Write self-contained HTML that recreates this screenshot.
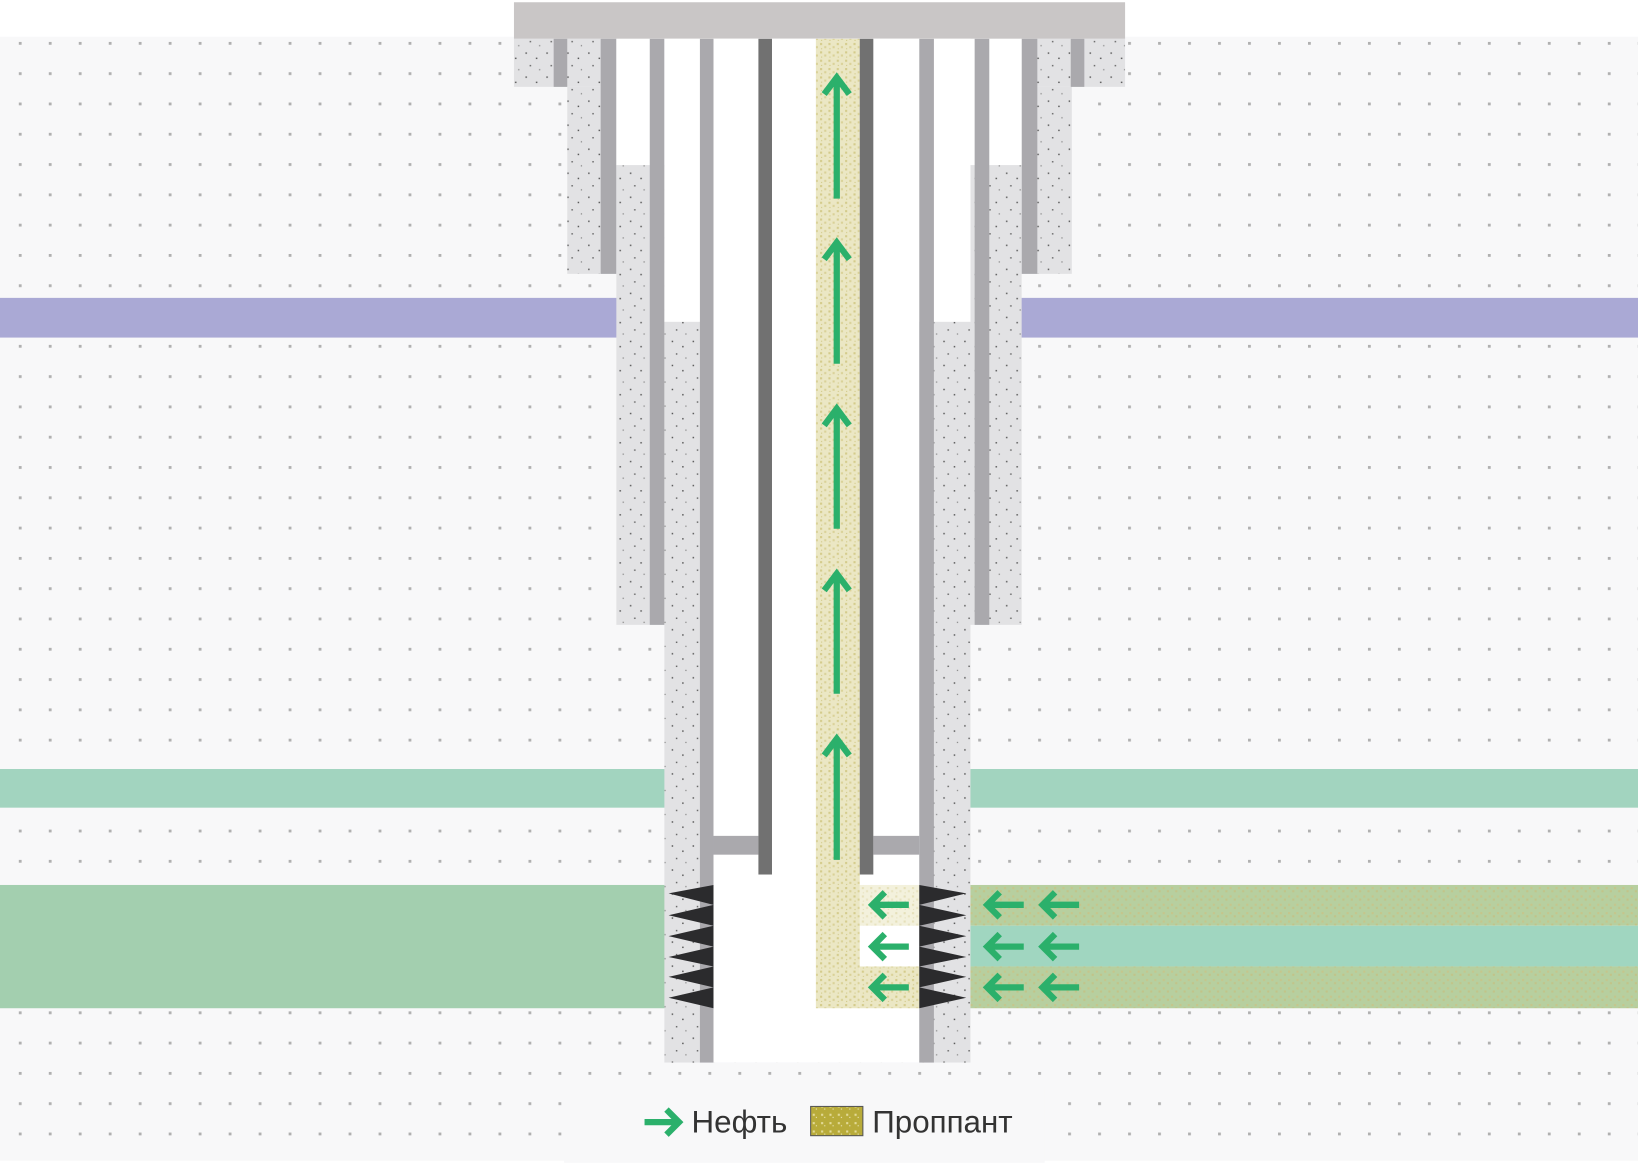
<!DOCTYPE html>
<html><head><meta charset="utf-8"><style>html,body{margin:0;padding:0;background:#fff}svg{display:block}</style></head><body>
<svg width="1638" height="1163" viewBox="0 0 1568 1113" xmlns="http://www.w3.org/2000/svg">
<defs>
<pattern id="dots" x="18" y="11" width="28.7" height="29" patternUnits="userSpaceOnUse"><rect width="2.7" height="2.7" fill="#b0b0b0"/></pattern>
<pattern id="cem" width="20" height="23" patternUnits="userSpaceOnUse"><rect width="20" height="23" fill="#e2e2e4"/><rect x="3" y="4" width="1.4" height="1.4" fill="#555"/><rect x="13" y="9" width="1.4" height="1.4" fill="#555"/><rect x="7" y="16" width="1.4" height="1.4" fill="#666"/><rect x="16" y="20" width="1.2" height="1.2" fill="#888"/></pattern>
<pattern id="prop" width="8" height="8" patternUnits="userSpaceOnUse"><rect width="8" height="8" fill="#ebe7c4"/><rect x="1" y="1" width="2" height="2" fill="#d4cb8a"/><rect x="5" y="4" width="2" height="2" fill="#d9d197"/><rect x="2" y="6" width="1" height="1" fill="#cfc682"/></pattern>
<pattern id="propg" width="8" height="8" patternUnits="userSpaceOnUse"><rect width="8" height="8" fill="#b7cf9f"/><rect x="1" y="1" width="2" height="2" fill="#c6c58b"/><rect x="5" y="4" width="2" height="2" fill="#c2c388"/></pattern>
<pattern id="leg" width="8" height="8" patternUnits="userSpaceOnUse"><rect width="8" height="8" fill="#b8ab3a"/><rect x="2" y="2" width="2" height="2" fill="#e4dc9a"/><rect x="5" y="5" width="1" height="1" fill="#f2eecd"/></pattern>
</defs>
<rect x="0" y="35" width="1568" height="1076" fill="#f8f8f9"/>
<rect x="0" y="35" width="1568" height="1076" fill="url(#dots)"/>
<rect x="0" y="285" width="1568" height="38" fill="#aaa9d5"/>
<rect x="0" y="736" width="1568" height="37" fill="#a2d4bf"/>
<rect x="0" y="847" width="640" height="118" fill="#a3cfaf"/>
<rect x="925" y="847" width="643" height="39" fill="url(#propg)"/>
<rect x="925" y="886" width="643" height="39" fill="#a0d6c0"/>
<rect x="925" y="925" width="643" height="40" fill="url(#propg)"/>
<rect x="492" y="2" width="585" height="35" fill="#c9c6c6"/>
<rect x="492" y="37" width="585" height="46" fill="url(#cem)"/>
<rect x="543" y="83" width="483" height="179" fill="url(#cem)"/>
<rect x="530" y="37" width="13" height="46" fill="#aaa9ad"/>
<rect x="1025" y="37" width="13" height="46" fill="#aaa9ad"/>
<rect x="575" y="37" width="15" height="225" fill="#aaa9ad"/>
<rect x="978" y="37" width="15" height="225" fill="#aaa9ad"/>
<rect x="590" y="37" width="388" height="121" fill="#fff"/>
<rect x="590" y="158" width="388" height="440" fill="url(#cem)"/>
<rect x="622" y="37" width="14" height="561" fill="#aaa9ad"/>
<rect x="933" y="37" width="14" height="561" fill="#aaa9ad"/>
<rect x="636" y="37" width="293" height="271" fill="#fff"/>
<rect x="636" y="308" width="293" height="709" fill="url(#cem)"/>
<rect x="683" y="37" width="197" height="980" fill="#fff"/>
<rect x="670" y="37" width="13" height="980" fill="#aaa9ad"/>
<rect x="880" y="37" width="14" height="980" fill="#aaa9ad"/>
<rect x="781" y="37" width="42" height="928" fill="url(#prop)"/>
<rect x="823" y="847" width="57" height="39" fill="url(#prop)" opacity="0.6"/>
<rect x="823" y="925" width="57" height="40" fill="url(#prop)"/>
<rect x="683" y="800" width="43" height="18" fill="#aaa9ad"/>
<rect x="836" y="800" width="44" height="18" fill="#aaa9ad"/>
<rect x="726" y="37" width="13" height="800" fill="#717171"/>
<rect x="823" y="37" width="13" height="800" fill="#717171"/>
<g fill="#2b2b2d">
<path d="M683,847 L640,855 L683,866Z M683,866 L640,876 L683,886Z M683,886 L640,896 L683,906Z M683,906 L640,916 L683,925Z M683,925 L640,935 L683,945Z M683,945 L640,955 L683,965Z"/>
<path d="M880,847 L925,855 L880,866Z M880,866 L925,876 L880,886Z M880,886 L925,896 L880,906Z M880,906 L925,916 L880,925Z M880,925 L925,935 L880,945Z M880,945 L925,955 L880,965Z"/>
</g>
<g stroke="#2bb06b" stroke-width="6" fill="none" stroke-linejoin="miter">
<path d="M801,190 V74 M789,90 L801,74 L813,90"/>
<path d="M801,348 V232 M789,248 L801,232 L813,248"/>
<path d="M801,506 V391 M789,407 L801,391 L813,407"/>
<path d="M801,664 V549 M789,565 L801,549 L813,565"/>
<path d="M801,823 V707 M789,723 L801,707 L813,723"/>
</g>
<g stroke="#2bb06b" stroke-width="6" fill="none">
<g id="la"><path d="M870,866 H835 M847,854 L835,866 L847,878"/><path d="M980,866 H945 M957,854 L945,866 L957,878"/><path d="M1033,866 H998 M1010,854 L998,866 L1010,878"/></g>
<use href="#la" y="40"/><use href="#la" y="79"/>
</g>
<rect x="540" y="1040" width="460" height="73" fill="#f8f8f9"/>
<g stroke="#2bb06b" stroke-width="6" fill="none"><path d="M617,1074 H648 M638,1062 L650,1074 L638,1086"/></g>
<text x="662" y="1084" font-family="Liberation Sans, sans-serif" font-size="30" fill="#333">Нефть</text>
<rect x="776" y="1059" width="50" height="28" fill="url(#leg)" stroke="#555" stroke-width="1"/>
<text x="835" y="1084" font-family="Liberation Sans, sans-serif" font-size="30" fill="#333">Проппант</text>
</svg>
</body></html>
